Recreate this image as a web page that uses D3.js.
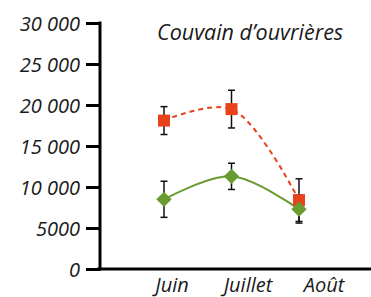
<!DOCTYPE html>
<html>
<head>
<meta charset="utf-8">
<script src="https://cdn.jsdelivr.net/npm/d3@7"></script>
<style>
  body { margin: 0; background: #fff; }
  svg text { font-family: "Open Sans", sans-serif; font-style: italic; fill: #1a1a1a; }
</style>
</head>
<body>
<div id="wrapper"></div>
<script>
const months = ["Juin", "Juillet", "Août"]
const redValues = [18100, 19500, 8400]
const redErrors = [1700, 2300, 2600]
const greenValues = [8500, 11300, 7300]
const greenErrors = [2200, 1600, 1700]
const yTicks = [0, 5000, 10000, 15000, 20000, 25000, 30000]
const title = "Couvain d’ouvrières"

function drawChart() {
    let dimensions = {
        width: 371,
        height: 297,
        margin: { top: 23, right: 0, bottom: 28, left: 100 },
    }
    dimensions.boundedWidth = dimensions.width - dimensions.margin.left - dimensions.margin.right
    dimensions.boundedHeight = dimensions.height - dimensions.margin.top - dimensions.margin.bottom

    const wrapper = d3.select("#wrapper")
        .append("svg")
        .attr("width", dimensions.width)
        .attr("height", dimensions.height)

    const bounds = wrapper.append("g")
        .attr("transform", `translate(${dimensions.margin.left},${dimensions.margin.top})`)

    const yScale = d3.scaleLinear()
        .domain([0, 30000])
        .range([dimensions.boundedHeight, 0])

    // points sit a bit left of the month labels in the original
    const xScale = d3.scalePoint()
        .domain(months)
        .range([64, 199])
    const labelScale = d3.scalePoint()
        .domain(months)
        .range([72, 224])

    const fmt = d => d >= 10000 ? d3.format(",")(d).replace(",", " ") : String(d)

    // y axis
    const yAxis = bounds.append("g")
        .call(d3.axisLeft(yScale).tickValues(yTicks).tickSize(14).tickPadding(6).tickFormat(fmt))
    yAxis.select(".domain").remove()
    yAxis.selectAll(".tick line").attr("stroke", "#000").attr("stroke-width", 3)
    yAxis.selectAll(".tick text")
        .attr("font-size", 20)
        .attr("dy", "0.35em")
        .style("font-family", "'Open Sans', sans-serif")
        .style("font-style", "italic")
        .attr("fill", "#1a1a1a")
    bounds.append("line")
        .attr("x1", 0).attr("x2", 0)
        .attr("y1", yScale(30000) - 1.5).attr("y2", yScale(0) + 1.5)
        .attr("stroke", "#000").attr("stroke-width", 3)

    // x axis
    bounds.append("line")
        .attr("x1", -3).attr("x2", dimensions.boundedWidth)
        .attr("y1", yScale(0)).attr("y2", yScale(0))
        .attr("stroke", "#000").attr("stroke-width", 3)
    bounds.selectAll(".xlabel")
        .data(months)
        .join("text")
        .attr("class", "xlabel")
        .attr("x", d => labelScale(d))
        .attr("y", yScale(0) + 23)
        .attr("text-anchor", "middle")
        .attr("font-size", 20)
        .text(d => d)

    const series = [
        { values: redValues, errors: redErrors, color: "#e8421a", dash: "5,4", shape: d3.symbolSquare, size: 144 },
        { values: greenValues, errors: greenErrors, color: "#6a9b30", dash: null, shape: d3.symbolDiamond2, size: 150 },
    ]

    const lineGenerator = d3.line()
        .x((d, i) => xScale(months[i]))
        .y(d => yScale(d))
        .curve(d3.curveCatmullRom.alpha(0.5))

    series.forEach(s => {
        bounds.append("path")
            .attr("d", lineGenerator(s.values))
            .attr("fill", "none")
            .attr("stroke", s.color)
            .attr("stroke-width", 2)
            .attr("stroke-dasharray", s.dash)
    })

    series.forEach(s => {
        const g = bounds.append("g")
        s.values.forEach((v, i) => {
            const x = xScale(months[i])
            const lo = yScale(v - s.errors[i]), hi = yScale(v + s.errors[i])
            g.append("line").attr("x1", x).attr("x2", x).attr("y1", lo).attr("y2", hi)
            g.append("line").attr("x1", x - 3.5).attr("x2", x + 3.5).attr("y1", lo).attr("y2", lo)
            g.append("line").attr("x1", x - 3.5).attr("x2", x + 3.5).attr("y1", hi).attr("y2", hi)
        })
        g.selectAll("line").attr("stroke", "#111").attr("stroke-width", 1.5)
    })

    series.forEach(s => {
        bounds.selectAll(null)
            .data(s.values)
            .join("path")
            .attr("transform", (d, i) => `translate(${xScale(months[i])},${yScale(d)})`)
            .attr("d", d3.symbol().type(s.shape).size(s.size))
            .attr("fill", s.color)
    })

    wrapper.append("text")
        .attr("x", 157)
        .attr("y", 40)
        .attr("font-size", 21.5)
        .text(title)
}

drawChart()
</script>
</body>
</html>
